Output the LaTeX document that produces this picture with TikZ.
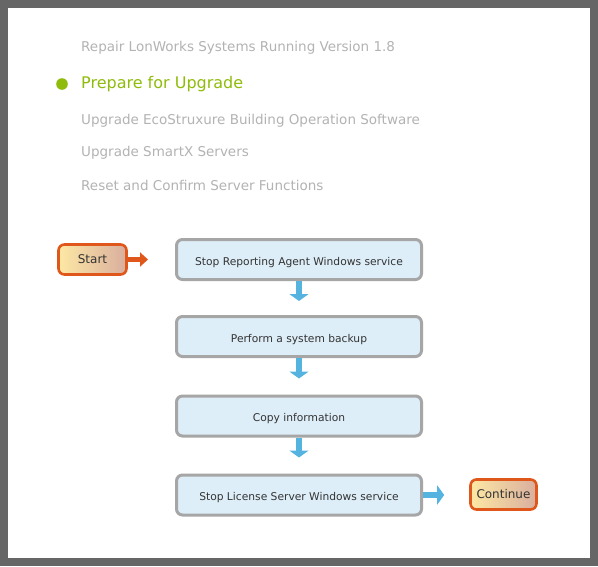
\documentclass[tikz,border=0pt]{standalone}
\usepackage{fontspec}
\setmainfont{DejaVu Sans}
\usetikzlibrary{arrows.meta}
\definecolor{frame}{HTML}{666666}
\definecolor{greytext}{HTML}{B3B3B3}
\definecolor{greenhi}{HTML}{8FBC0B}
\definecolor{stepfill}{HTML}{DDEEF8}
\definecolor{stepline}{HTML}{A6A6A6}
\definecolor{arrowblue}{HTML}{55B3E0}
\definecolor{orangeline}{HTML}{E0571C}
\definecolor{termleft}{HTML}{FDE8A4}
\definecolor{termright}{HTML}{D9AE9E}
\definecolor{darktext}{HTML}{333333}
\tikzset{
  stepbox/.style={draw=stepline, line width=3pt, fill=stepfill, rounded corners=6pt,
    minimum width=245pt, minimum height=40pt, inner sep=0pt, text height=11pt, text depth=0pt,
    font=\fontsize{10.7}{12}\selectfont, text=darktext},
  termbox/.style={draw=orangeline, line width=2.6pt, left color=termleft, right color=termright,
    rounded corners=6pt, minimum height=30pt, inner sep=0pt,
    font=\fontsize{12}{14}\selectfont, text=darktext},
  menuitem/.style={anchor=west, inner sep=0pt, text=greytext, font=\fontsize{13.5}{16}\selectfont},
  downarrow/.style={draw=arrowblue, line width=6.5pt, -{Triangle[width=19pt,length=7pt]}},
  termarrow/.style={draw=orangeline, line width=5pt, -{Triangle[width=14pt,length=8pt]}},
  rightarrow/.style={draw=arrowblue, line width=6.5pt, -{Triangle[width=19pt,length=7pt]}},
}
\begin{document}
\begin{tikzpicture}[x=1pt,y=-1pt]
\fill[frame] (0,0) rectangle (598,566);
\fill[white] (8,8) rectangle (590,558);
\useasboundingbox (0,0) rectangle (598,566);

\node[menuitem] (m1) at (81,47.5) {Repair LonWorks Systems Running Version 1.8};
\fill[greenhi] (62,84) circle (5.8pt);
\node[menuitem, text=greenhi, font=\fontsize{16}{19}\selectfont] (m2) at (81,84.5) {Prepare for Upgrade};
\node[menuitem] (m3) at (81,120.5) {Upgrade EcoStruxure Building Operation Software};
\node[menuitem] (m4) at (81,153) {Upgrade SmartX Servers};
\node[menuitem] (m5) at (81,185.5) {Reset and Confirm Server Functions};

\node[termbox, minimum width=68pt] (start) at (92.5,259.5) {Start};
\node[stepbox] (b1) at (299,259.5) {Stop Reporting Agent Windows service};
\node[stepbox] (b2) at (299,336.5) {Perform a system backup};
\node[stepbox] (b3) at (299,416) {Copy information};
\node[stepbox] (b4) at (299,495) {Stop License Server Windows service};
\node[termbox, minimum width=66pt] (cont) at (503.5,494.5) {Continue};

\draw[termarrow, shorten >=27pt] (start.east) -- (b1.west |- start.east);
\draw[downarrow, shorten >=14pt] (b1.south) -- (b2.north);
\draw[downarrow, shorten >=16pt] (b2.south) -- (b3.north);
\draw[downarrow, shorten >=16pt] (b3.south) -- (b4.north);
\draw[rightarrow, shorten >=25pt] (b4.east) -- (cont.west |- b4.east);
\end{tikzpicture}
\end{document}
